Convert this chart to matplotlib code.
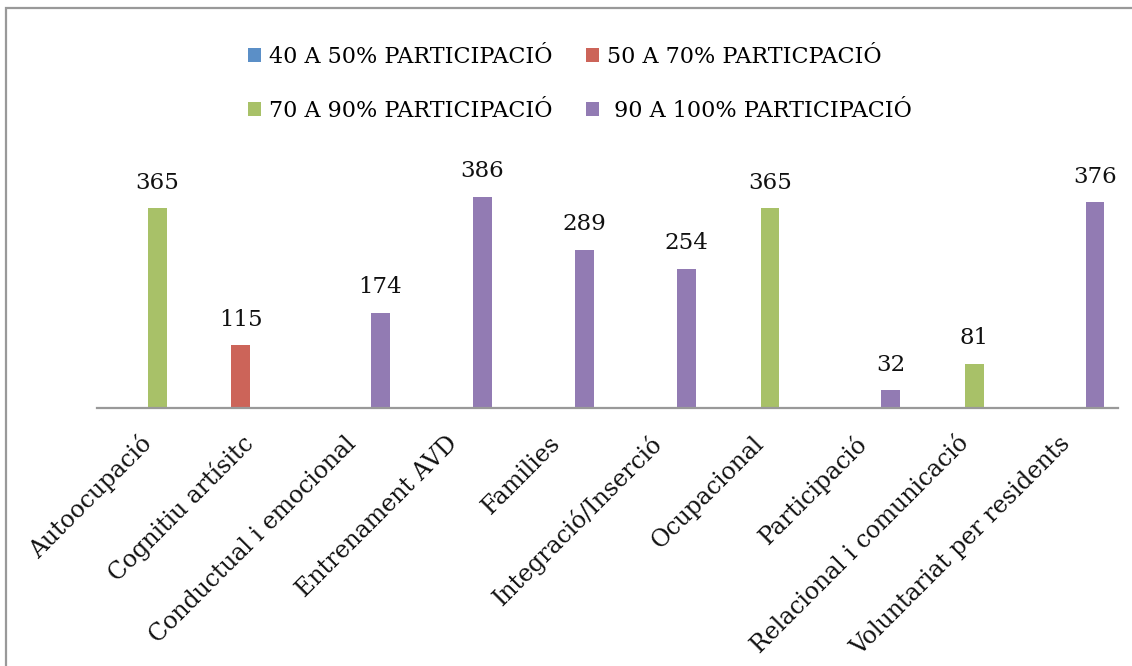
import matplotlib.pyplot as plt
import numpy as np
from matplotlib.patches import Rectangle

# Programes i participacions
programes = ['Autoocupació', 'Cognitiu artísitc', 'Conductual i emocional',
             'Entrenament AVD', 'Families', 'Integració/Inserció', 'Ocupacional',
             'Participació', 'Relacional i comunicació', 'Voluntariat per residents']
series = ['40 A 50% PARTICIPACIÓ', '50 A 70% PARTICPACIÓ',
          '70 A 90% PARTICIPACIÓ', ' 90 A 100% PARTICIPACIÓ']
p40_50 = [0, 0, 0, 0, 0, 0, 0, 0, 0, 0]
p50_70 = [0, 115, 0, 0, 0, 0, 0, 0, 0, 0]
p70_90 = [365, 0, 0, 0, 0, 0, 365, 0, 81, 0]
p90_100 = [0, 0, 174, 386, 289, 254, 0, 32, 0, 376]
colors = ['#5b8fc7', '#cc6459', '#a8c168', '#927bb3']

plt.rcParams['font.family'] = ['DejaVu Serif']
fig = plt.figure(figsize=(11.32, 6.66), dpi=100)
ax = fig.add_axes([97 / 1132, 1 - 408 / 666, 1021 / 1132, 258 / 666])

x = np.arange(len(programes))
w = 0.183
handles = []
for i, vals in enumerate([p40_50, p50_70, p70_90, p90_100]):
    pos = x + (i - 1.5) * w
    b = ax.bar(pos, vals, width=w, color=colors[i], label=series[i])
    handles.append(b)
    for px, v in zip(pos, vals):
        if v > 0:
            ax.annotate(str(v), (px, v), xytext=(0, 14), textcoords='offset points',
                        ha='center', va='baseline', fontsize=16.5, color='#111111')

ax.set_xlim(-0.5, len(programes) - 0.5)
ax.set_ylim(0, 471)
for s in ['top', 'right', 'left']:
    ax.spines[s].set_visible(False)
ax.spines['bottom'].set_color('#999999')
ax.spines['bottom'].set_linewidth(1.6)
ax.set_yticks([])
ax.set_xticks(x)
ax.set_xticklabels(programes, rotation=45, ha='right', va='center',
                   rotation_mode='anchor', fontsize=17, color='#111111')
ax.tick_params(axis='x', length=0, pad=23)

# ordre per files: matplotlib omple per columnes
order = [0, 2, 1, 3]
fig.legend(handles=[handles[k] for k in order], labels=[series[k] for k in order],
           ncol=2, frameon=False,
           loc='upper left', bbox_to_anchor=(248 / 1132, 1 - 46 / 666),
           fontsize=16, handlelength=0.6, handleheight=0.6,
           handletextpad=0.35, columnspacing=1.5, labelspacing=1.45,
           borderpad=0, borderaxespad=0)

# marc gris
fig.patches.append(Rectangle((6 / 1132, -0.2), 2.0, 1.2 - 8 / 666, fill=False,
                             edgecolor='#999999', linewidth=1.6,
                             transform=fig.transFigure, figure=fig))

fig.savefig('out.png', dpi=100)
